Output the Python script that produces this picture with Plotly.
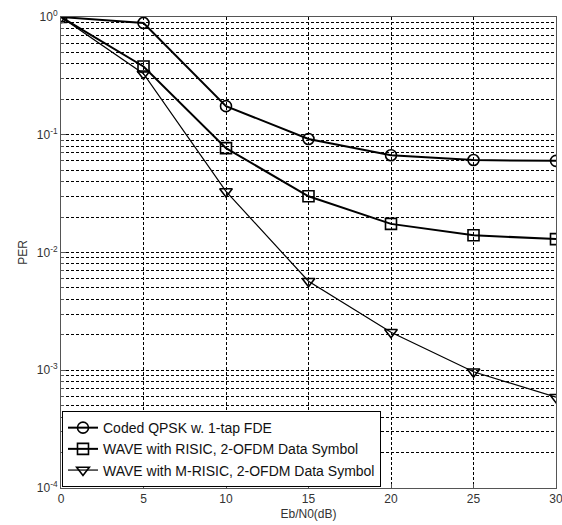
import plotly.graph_objects as go

snr = [0, 5, 10, 15, 20, 25, 30]
per_qpsk = [1.0, 0.89, 0.175, 0.092, 0.067, 0.061, 0.060]
per_risic = [1.0, 0.38, 0.077, 0.030, 0.0175, 0.014, 0.013]
per_mrisic = [1.0, 0.33, 0.033, 0.0057, 0.0021, 0.00097, 0.00059]
names = ["Coded QPSK w. 1-tap FDE",
         "WAVE with RISIC, 2-OFDM Data Symbol",
         "WAVE with M-RISIC, 2-OFDM Data Symbol"]
y_major = [1e-4, 1e-3, 1e-2, 1e-1, 1e0]
y_labels = ["10<sup>-4</sup>", "10<sup>-3</sup>", "10<sup>-2</sup>", "10<sup>-1</sup>", "10<sup>0</sup>"]
x_ticks = [0, 5, 10, 15, 20, 25, 30]

minor_vals = [m * 10 ** e for e in range(-4, 0) for m in range(2, 10)]

fig = go.Figure()
styles = [("circle-open", 2), ("square-open", 2), ("triangle-down-open", 1.2)]
for ys, nm, (sym, lw) in zip([per_qpsk, per_risic, per_mrisic], names, styles):
    fig.add_trace(go.Scatter(
        x=snr, y=ys, name=nm, mode="lines+markers",
        line=dict(color="black", width=lw),
        marker=dict(symbol=sym, size=11, color="black", line=dict(width=1.6, color="black")),
    ))

fig.update_layout(
    width=562, height=525,
    margin=dict(l=61, r=6, t=17, b=37),
    paper_bgcolor="white", plot_bgcolor="white",
    font=dict(family="Liberation Sans, Arial, sans-serif", size=12, color="#333"),
    showlegend=True,
    legend=dict(x=0.002, y=0.002, xanchor="left", yanchor="bottom",
                bgcolor="white", bordercolor="black", borderwidth=1,
                font=dict(size=14, color="#111"), tracegroupgap=0),
)
fig.update_xaxes(
    range=[0, 30], tickvals=x_ticks, ticktext=[str(v) for v in x_ticks],
    ticklabeloverflow="allow", automargin=False,
    showgrid=True, gridcolor="black", griddash="3px,2px", gridwidth=1,
    showline=True, linecolor="#555", linewidth=1, mirror=True,
    ticks="inside", ticklen=4, tickcolor="#555", zeroline=False,
    title=dict(text="Eb/N0(dB)", standoff=4, font=dict(size=12)),
)
fig.update_yaxes(
    type="log", range=[-4, 0], tickvals=y_major, ticktext=y_labels,
    ticklabeloverflow="allow", automargin=False,
    showgrid=True, gridcolor="black", griddash="3px,2px", gridwidth=1,
    showline=True, linecolor="#555", linewidth=1, mirror=True,
    ticks="inside", ticklen=5, tickcolor="#555", zeroline=False,
    minor=dict(tickvals=minor_vals, showgrid=True, gridcolor="black", griddash="3px,2px",
               gridwidth=1, ticks="inside", ticklen=3, tickcolor="#555"),
    title=dict(text="PER", standoff=6, font=dict(size=12)),
)

fig.write_html("out.html", config={"displayModeBar": False},
               post_script="document.body.style.margin='0';")
